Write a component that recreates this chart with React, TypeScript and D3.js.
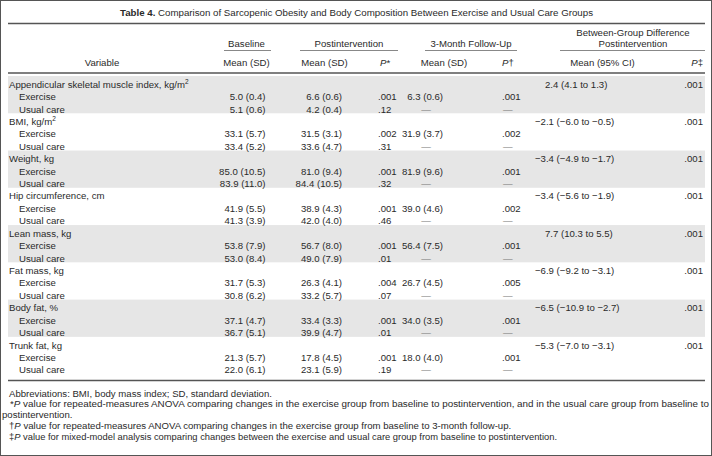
import React from "react";
import * as d3 from "d3";

const variables = [
  "Appendicular skeletal muscle index, kg/m^2",
  "BMI, kg/m^2",
  "Weight, kg",
  "Hip circumference, cm",
  "Lean mass, kg",
  "Fat mass, kg",
  "Body fat, %",
  "Trunk fat, kg",
];
const groupLabels = ["Exercise", "Usual care"];

// [exercise, usual care]
const baseMean = [[5.0, 5.1], [33.1, 33.4], [85.0, 83.9], [41.9, 41.3], [53.8, 53.0], [31.7, 30.8], [37.1, 36.7], [21.3, 22.0]];
const baseSD = [[0.4, 0.6], [5.7, 5.2], [10.5, 11.0], [5.5, 3.9], [7.9, 8.4], [5.3, 6.2], [4.7, 5.1], [5.7, 6.1]];
const postMean = [[6.6, 4.2], [31.5, 33.6], [81.0, 84.4], [38.9, 42.0], [56.7, 49.0], [26.3, 33.2], [33.4, 39.9], [17.8, 23.1]];
const postSD = [[0.6, 0.4], [3.1, 4.7], [9.4, 10.5], [4.3, 4.0], [8.0, 7.9], [4.1, 5.7], [3.3, 4.7], [4.5, 5.9]];
const postP = [[".001", ".12"], [".002", ".31"], [".001", ".32"], [".001", ".46"], [".001", ".01"], [".004", ".07"], [".001", ".01"], [".001", ".19"]];
// 3-month follow-up, exercise group only
const fuMean = [6.3, 31.9, 81.9, 39.0, 56.4, 26.7, 34.0, 18.0];
const fuSD = [0.6, 3.7, 9.6, 4.6, 7.5, 4.5, 3.5, 4.0];
const fuP = [".001", ".002", ".001", ".002", ".001", ".005", ".001", ".001"];
// between-group difference postintervention
const diffMean = [2.4, -2.1, -3.4, -3.4, 7.7, -6.9, -6.5, -5.3];
const diffLo = [4.1, -6.0, -4.9, -5.6, 10.3, -9.2, -10.9, -7.0];
const diffHi = [1.3, -0.5, -1.7, -1.9, 5.5, -3.1, -2.7, -3.1];
const diffP = [".001", ".001", ".001", ".001", ".001", ".001", ".001", ".001"];

const titleBold = "Table 4.";
const titleText = " Comparison of Sarcopenic Obesity and Body Composition Between Exercise and Usual Care Groups";
const footAbbrev = "Abbreviations: BMI, body mass index; SD, standard deviation.";
const foot1a = " value for repeated-measures ANOVA comparing changes in the exercise group from baseline to postintervention, and in the usual care group from baseline to";
const foot1b = "postintervention.";
const foot2 = " value for repeated-measures ANOVA comparing changes in the exercise group from baseline to 3-month follow-up.";
const foot3 = " value for mixed-model analysis comparing changes between the exercise and usual care group from baseline to postintervention.";

const f1 = d3.format(".1f");
const ms = (m: number, s: number) => `${f1(m)} (${f1(s)})`;
const ci = (m: number, lo: number, hi: number) => `${f1(m)} (${f1(lo)} to ${f1(hi)})`;

const FONT = "'Liberation Sans', Arial, Helvetica, sans-serif";
const TXT = "#2a2a2a";

function Label({ text, x, y }: { text: string; x: number; y: number }) {
  const parts = text.split("^");
  return (
    <text x={x} y={y}>
      {parts[0]}
      {parts[1] && (
        <tspan fontSize={6.5} dy={-3.6}>
          {parts[1]}
        </tspan>
      )}
    </text>
  );
}

export default function App() {
  const W = 712;
  const H = 456;
  const nRows = variables.length * 3;
  const y = d3.scaleLinear().domain([0, nRows - 1]).range([84.3, 370]);
  const pitch = y(1) - y(0);
  const bl = (i: number) => y(i) + 3.4;

  const L = 8;
  const R = 705;

  const rows: React.ReactNode[] = [];
  variables.forEach((v, g) => {
    const r0 = g * 3;
    rows.push(<Label key={`v${g}`} text={v} x={9} y={bl(r0)} />);
    const d = ci(diffMean[g], diffLo[g], diffHi[g]);
    rows.push(
      <text key={`d${g}`} x={d.startsWith("−") ? 535 : 545} y={bl(r0)}>
        {d}
      </text>
    );
    rows.push(
      <text key={`dp${g}`} x={703} y={bl(r0)} textAnchor="end">
        {diffP[g]}
      </text>
    );
    groupLabels.forEach((gl, k) => {
      const r = r0 + 1 + k;
      rows.push(
        <g key={`r${g}-${k}`}>
          <text x={19} y={bl(r)}>{gl}</text>
          <text x={265.5} y={bl(r)} textAnchor="end">{ms(baseMean[g][k], baseSD[g][k])}</text>
          <text x={342} y={bl(r)} textAnchor="end">{ms(postMean[g][k], postSD[g][k])}</text>
          <text x={378} y={bl(r)}>{postP[g][k]}</text>
          {k === 0 ? (
            <>
              <text x={443} y={bl(r)} textAnchor="end">{ms(fuMean[g], fuSD[g])}</text>
              <text x={502} y={bl(r)}>{fuP[g]}</text>
            </>
          ) : (
            <>
              <text x={426} y={bl(r)} textAnchor="middle" fill="#777">—</text>
              <text x={503} y={bl(r)} fill="#777">—</text>
            </>
          )}
        </g>
      );
    });
  });

  const bands = variables
    .map((_, g) => g)
    .filter((g) => g % 2 === 0)
    .map((g) => (
      <rect key={`b${g}`} x={L} width={R - L} y={y(g * 3) - 8.3} height={pitch * 3} fill="#e6e6e6" />
    ));

  const hy2 = 65.5;
  const hy1 = 47.2;
  return (
    <svg
      width={W}
      height={H}
      viewBox={`0 0 ${W} ${H}`}
      style={{ position: "absolute", left: 0, top: 0, display: "block", background: "#fff" }}
      fontFamily={FONT}
      fontSize={9.6}
      fill={TXT}
    >
      <rect x={0.5} y={0.5} width={W - 1} height={H - 1} fill="#fff" stroke="#555" strokeWidth={1} />
      {/* title */}
      <text x={120} y={15.8} textLength={473} lengthAdjust="spacingAndGlyphs">
        <tspan fontWeight="bold">{titleBold}</tspan>
        {titleText}
      </text>
      <line x1={L} x2={R} y1={23.5} y2={23.5} stroke="#555" strokeWidth={1.3} />
      {/* header */}
      <text x={633} y={35.6} textAnchor="middle">Between-Group Difference</text>
      <text x={246.5} y={hy1} textAnchor="middle">Baseline</text>
      <text x={349} y={hy1} textAnchor="middle">Postintervention</text>
      <text x={471} y={hy1} textAnchor="middle">3-Month Follow-Up</text>
      <text x={633} y={hy1} textAnchor="middle">Postintervention</text>
      {[
        [224, 271],
        [300, 398],
        [425, 517],
        [560, 705],
      ].map(([a, b], i) => (
        <line key={`u${i}`} x1={a} x2={b} y1={50.5} y2={50.5} stroke="#888" strokeWidth={1} />
      ))}
      <text x={102} y={hy2} textAnchor="middle">Variable</text>
      <text x={246.5} y={hy2} textAnchor="middle">Mean (SD)</text>
      <text x={324.5} y={hy2} textAnchor="middle">Mean (SD)</text>
      <text x={380} y={hy2}>
        <tspan fontStyle="italic">P</tspan>*
      </text>
      <text x={444} y={hy2} textAnchor="middle">Mean (SD)</text>
      <text x={502} y={hy2}>
        <tspan fontStyle="italic">P</tspan>†
      </text>
      <text x={602.5} y={hy2} textAnchor="middle">Mean (95% CI)</text>
      <text x={703} y={hy2} textAnchor="end">
        <tspan fontStyle="italic">P</tspan>‡
      </text>
      <line x1={L} x2={R} y1={73} y2={73} stroke="#555" strokeWidth={1.5} />
      {bands}
      {rows}
      <line x1={L} x2={R} y1={380.5} y2={380.5} stroke="#555" strokeWidth={1.5} />
      {/* footnotes */}
      <g fontSize={9.6}>
        <text x={9} y={396.5}>{footAbbrev}</text>
        <text x={10} y={407.3} textLength={699} lengthAdjust="spacingAndGlyphs">
          *<tspan fontStyle="italic">P</tspan>
          {foot1a}
        </text>
        <text x={2} y={418.1}>{foot1b}</text>
        <text x={9} y={428.9}>
          †<tspan fontStyle="italic">P</tspan>
          {foot2}
        </text>
        <text x={9} y={439.7} textLength={548} lengthAdjust="spacingAndGlyphs">
          ‡<tspan fontStyle="italic">P</tspan>
          {foot3}
        </text>
      </g>
    </svg>
  );
}
